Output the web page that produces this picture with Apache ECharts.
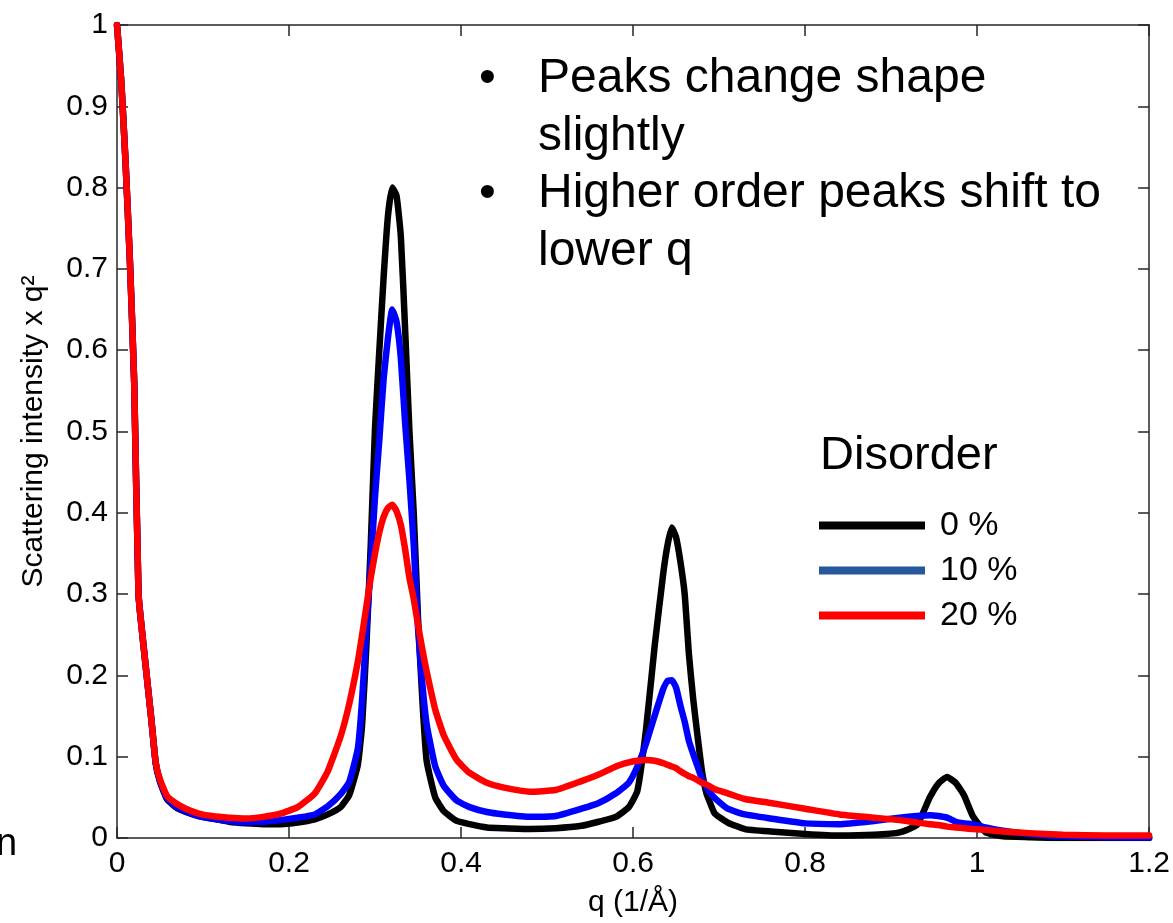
<!DOCTYPE html>
<html>
<head>
<meta charset="utf-8">
<title>Scattering intensity vs q</title>
<script src="https://cdn.jsdelivr.net/npm/echarts@6/dist/echarts.min.js"></script>
<style>
  html, body { margin: 0; padding: 0; background: #ffffff; }
  #chart { width: 1173px; height: 923px; }
</style>
</head>
<body>
<div id="chart"></div>
<script>
// Scattering vector q (1/Å), shared by all three disorder levels
const qValues = [
  0, 0.005, 0.01, 0.015, 0.02, 0.025, 0.03, 0.035, 0.04, 0.045,
  0.05, 0.058, 0.068, 0.08, 0.095, 0.11, 0.13, 0.15, 0.17, 0.19,
  0.21, 0.23, 0.245, 0.26, 0.27, 0.28, 0.285, 0.29, 0.295, 0.30,
  0.305, 0.31, 0.315, 0.32, 0.325, 0.33, 0.335, 0.34, 0.345, 0.35,
  0.355, 0.36, 0.37, 0.38, 0.395, 0.41, 0.43, 0.45, 0.48, 0.51,
  0.54, 0.56, 0.58, 0.595, 0.605, 0.615, 0.625, 0.635, 0.64, 0.645,
  0.65, 0.655, 0.66, 0.665, 0.67, 0.675, 0.68, 0.685, 0.69, 0.695,
  0.71, 0.73, 0.76, 0.80, 0.84, 0.88, 0.91, 0.93, 0.945, 0.955,
  0.965, 0.975, 0.985, 0.995, 1.01, 1.03, 1.06, 1.10, 1.15, 1.2
];

// Scattering intensity x q^2, disorder 0 %
const disorder0 = [
  1.0, 0.93, 0.83, 0.71, 0.56, 0.30, 0.245, 0.195, 0.145, 0.092,
  0.069, 0.048, 0.038, 0.032, 0.027, 0.024, 0.020, 0.018, 0.017, 0.017,
  0.019, 0.023, 0.029, 0.038, 0.053, 0.09, 0.14, 0.238, 0.36, 0.505,
  0.60, 0.69, 0.765, 0.80, 0.79, 0.74, 0.625, 0.50, 0.40, 0.27,
  0.17, 0.095, 0.05, 0.033, 0.021, 0.017, 0.013, 0.012, 0.011, 0.012,
  0.015, 0.020, 0.026, 0.038, 0.058, 0.133, 0.235, 0.325, 0.36, 0.382,
  0.37, 0.34, 0.30, 0.225, 0.17, 0.125, 0.083, 0.056, 0.042, 0.030,
  0.019, 0.011, 0.008, 0.005, 0.003, 0.004, 0.007, 0.016, 0.050, 0.067,
  0.075, 0.068, 0.052, 0.027, 0.007, 0.002, 0.001, 0.0, 0.0, 0.0
];

// Scattering intensity x q^2, disorder 10 %
const disorder10 = [
  1.0, 0.93, 0.83, 0.71, 0.56, 0.30, 0.245, 0.195, 0.145, 0.092,
  0.070, 0.049, 0.039, 0.033, 0.027, 0.024, 0.021, 0.0195, 0.020, 0.022,
  0.025, 0.029, 0.039, 0.054, 0.069, 0.11, 0.17, 0.258, 0.335, 0.42,
  0.49, 0.565, 0.615, 0.65, 0.635, 0.59, 0.51, 0.44, 0.36, 0.258,
  0.19, 0.14, 0.088, 0.064, 0.046, 0.038, 0.032, 0.029, 0.026, 0.027,
  0.036, 0.043, 0.055, 0.068, 0.088, 0.116, 0.150, 0.183, 0.193, 0.194,
  0.185, 0.163, 0.143, 0.119, 0.103, 0.088, 0.073, 0.063, 0.055, 0.049,
  0.036, 0.029, 0.024, 0.018, 0.017, 0.021, 0.025, 0.027, 0.028, 0.027,
  0.025, 0.020, 0.018, 0.017, 0.013, 0.009, 0.005, 0.002, 0.001, 0.0005
];

// Scattering intensity x q^2, disorder 20 %
const disorder20 = [
  1.0, 0.93, 0.83, 0.71, 0.56, 0.30, 0.245, 0.195, 0.145, 0.093,
  0.072, 0.052, 0.043, 0.036, 0.030, 0.027, 0.025, 0.024, 0.026, 0.030,
  0.038, 0.055, 0.082, 0.125, 0.165, 0.217, 0.250, 0.285, 0.32, 0.35,
  0.376, 0.395, 0.406, 0.41, 0.402, 0.385, 0.355, 0.32, 0.294, 0.262,
  0.232, 0.205, 0.158, 0.126, 0.096, 0.080, 0.068, 0.062, 0.057, 0.059,
  0.070, 0.078, 0.088, 0.093, 0.095, 0.096, 0.095, 0.092, 0.090, 0.088,
  0.086, 0.082, 0.079, 0.076, 0.074, 0.071, 0.068, 0.066, 0.063, 0.060,
  0.055, 0.048, 0.043, 0.036, 0.029, 0.025, 0.022, 0.019, 0.017, 0.016,
  0.014, 0.013, 0.012, 0.011, 0.010, 0.008, 0.006, 0.004, 0.003, 0.003
];

const seriesNames = ['0 %', '10 %', '20 %'];
const seriesValues = [disorder0, disorder10, disorder20];
const lineColors = ['#000000', '#0000ff', '#ff0000'];
const legendColors = ['#000000', '#24579b', '#ff0000'];

const noteLines = ['Peaks change shape', 'slightly', 'Higher order peaks shift to', 'lower q'];

const FONT = "'Liberation Sans', Arial, Helvetica, sans-serif";
const AXIS_COLOR = '#262626';

const chart = echarts.init(document.getElementById('chart'), null, { renderer: 'canvas' });

const toPairs = vals => qValues.map((q, i) => [q, vals[i]]);

const boxAxis = {
  axisLine: { show: true, onZero: false, lineStyle: { color: AXIS_COLOR, width: 1.5 } },
  axisTick: { show: true, inside: true, length: 11, lineStyle: { color: AXIS_COLOR, width: 1.5 } },
  splitLine: { show: false }
};

const option = {
  animation: false,
  backgroundColor: '#ffffff',
  textStyle: { fontFamily: FONT },
  grid: { left: 117, top: 25, right: 23, bottom: 78, containLabel: false },
  xAxis: [
    Object.assign({
      type: 'value', min: 0, max: 1.2, interval: 0.2, position: 'bottom',
      name: 'q (1/Å)', nameLocation: 'middle', nameGap: 50,
      nameTextStyle: { fontSize: 30, color: '#000', fontFamily: FONT },
      axisLabel: { fontSize: 30, color: '#000', margin: 11, fontFamily: FONT }
    }, boxAxis),
    Object.assign({
      type: 'value', min: 0, max: 1.2, interval: 0.2, position: 'top',
      axisLabel: { show: false }
    }, boxAxis)
  ],
  yAxis: [
    Object.assign({
      type: 'value', min: 0, max: 1, interval: 0.1, position: 'left',
      name: 'Scattering intensity x q²', nameLocation: 'middle', nameGap: 68,
      nameTextStyle: { fontSize: 30, color: '#000', fontFamily: FONT },
      axisLabel: { fontSize: 30, color: '#000', margin: 9, fontFamily: FONT, padding: [6, 0, 0, 0] }
    }, boxAxis),
    Object.assign({
      type: 'value', min: 0, max: 1, interval: 0.1, position: 'right',
      axisLabel: { show: false }
    }, boxAxis)
  ],
  legend: {
    orient: 'vertical',
    left: 814,
    top: 502,
    itemWidth: 106,
    itemHeight: 8,
    itemGap: 8,
    icon: 'rect',
    selectedMode: false,
    textStyle: { fontSize: 34, color: '#000', fontFamily: FONT, padding: [0, 0, 0, 10], lineHeight: 37 },
    data: seriesNames.map((n, i) => ({ name: n, itemStyle: { color: legendColors[i] } }))
  },
  graphic: [
    {
      type: 'text', left: 820, top: 433,
      style: { text: 'Disorder', fontSize: 47, fill: '#000', fontFamily: FONT }
    },
    {
      type: 'group', left: 479, top: 55,
      children: noteLines.map((t, i) => ({
        type: 'text', x: 59, y: i * 57.5,
        style: { text: t, fontSize: 48, fill: '#000', fontFamily: FONT }
      })).concat([0, 2].map(i => ({
        type: 'text', x: 0, y: i * 57.5,
        style: { text: '•', fontSize: 48, fill: '#000', fontFamily: FONT }
      })))
    },
    {
      type: 'text', left: -4, top: 826,
      style: { text: 'n', fontSize: 38, fill: '#000', fontFamily: FONT }
    }
  ],
  series: seriesNames.map((n, i) => ({
    name: n,
    type: 'line',
    xAxisIndex: 0,
    yAxisIndex: 0,
    data: toPairs(seriesValues[i]),
    showSymbol: false,
    smooth: 0.15,
    color: lineColors[i],
    lineStyle: { color: lineColors[i], width: 6.5, join: 'round', cap: 'round' },
    z: 2 + i
  }))
};

chart.setOption(option);
</script>
</body>
</html>
